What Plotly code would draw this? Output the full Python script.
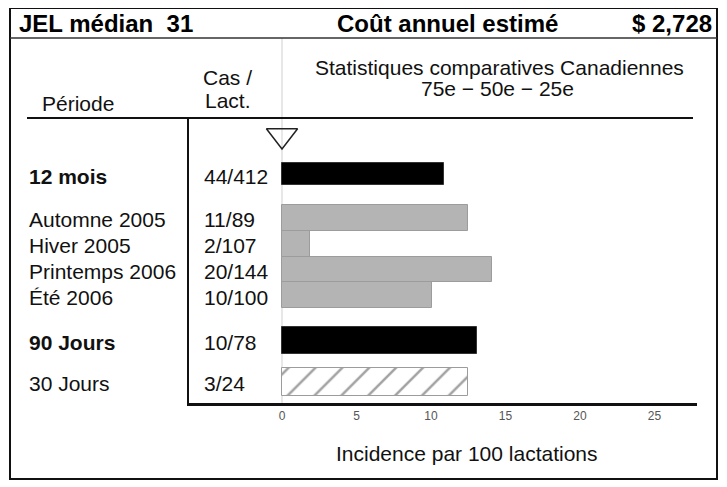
import plotly.graph_objects as go

# --- data ---
periods = ["12 mois", "Automne 2005", "Hiver 2005", "Printemps 2006", "Été 2006", "90 Jours", "30 Jours"]
cases = ["44/412", "11/89", "2/107", "20/144", "10/100", "10/78", "3/24"]
incidence = [10.9, 12.5, 1.9, 14.1, 10.1, 13.1, 12.5]
bold_periods = ["12 mois", "90 Jours"]
percentile_marker = [0]
x_ticks = [0, 5, 10, 15, 20, 25]

header_left = "JEL médian\u00a0\u00a031"
header_mid = "Coût annuel estimé"
header_right = "$ 2,728"

# --- layout (pixel geometry measured on the 727x487 reference) ---
# the page body has an 8px margin, so the figure is drawn 8px smaller and shifted
PAGE_OFF = 8
W_FIG, H_FIG = 727 - PAGE_OFF, 487 - PAGE_OFF
L, R, T, B = 189, 30, 118, 84          # plot area edges in reference pixels
PW, PH = 727 - L - R, 487 - T - B

row_pos = [2.18, 3.89, 4.9, 5.9, 6.9, 8.64, 10.27]
row_width = [0.82, 1.0, 1.0, 1.0, 1.0, 1.05, 1.08]
bar_fill = ["#000000", "#b4b4b4", "#b4b4b4", "#b4b4b4", "#b4b4b4", "#000000", "#ffffff"]
bar_line = ["#333333", "#9c9c9c", "#9c9c9c", "#9c9c9c", "#9c9c9c", "#333333", "#9c9c9c"]
bar_pattern = ["", "", "", "", "", "", "/"]

FONT = "Liberation Sans, Arial, sans-serif"


def px_x(x):
    return (x - L) / PW


def px_y(y):
    return (T + PH - y) / PH


fig = go.Figure()

fig.add_trace(go.Bar(
    x=incidence,
    y=row_pos,
    width=row_width,
    orientation="h",
    marker=dict(
        color=bar_fill,
        line=dict(color=bar_line, width=1),
        pattern=dict(shape=bar_pattern, fgcolor="#000000", bgcolor="#ffffff",
                     size=19, solidity=0.13),
    ),
    hoverinfo="x",
    showlegend=False,
))

fig.add_trace(go.Scatter(
    x=percentile_marker,
    y=[0.68],
    mode="markers",
    marker=dict(symbol="triangle-down-open", size=27, color="#222222",
                line=dict(width=1.5, color="#222222")),
    hoverinfo="skip",
    showlegend=False,
))

annotations = []

# row labels and case counts
for p, c, y in zip(periods, cases, row_pos):
    text = f"<b>{p}</b>" if p in bold_periods else p
    annotations.append(dict(text=text, x=px_x(27), xref="paper", y=y, yref="y",
                            xanchor="left", yanchor="middle", yshift=-2,
                            showarrow=False, font=dict(size=21, color="#111")))
    annotations.append(dict(text=c, x=px_x(202), xref="paper", y=y, yref="y",
                            xanchor="left", yanchor="middle", yshift=-2,
                            showarrow=False, font=dict(size=21, color="#111")))

# header row
for text, x, anchor in [(header_left, 17, "left"), (header_mid, 335, "left"),
                        (header_right, 714, "right")]:
    annotations.append(dict(text=f"<b>{text}</b>", x=px_x(x), y=px_y(23),
                            xref="paper", yref="paper", xanchor=anchor, yanchor="middle",
                            showarrow=False, font=dict(size=24, color="#000")))

# column headings and axis title
for text, x, y in [
    ("Période", 78, 103),
    ("Cas /", 227, 77),
    ("Lact.", 228, 100),
    ("Statistiques comparatives Canadiennes", 499, 67),
    ("75e \u2212 50e \u2212 25e", 497, 89),
    ("Incidence par 100 lactations", 467, 453),
]:
    annotations.append(dict(text=text, x=px_x(x), y=px_y(y), xref="paper", yref="paper",
                            xanchor="center", yanchor="middle", showarrow=False,
                            font=dict(size=21, color="#111")))

shapes = [
    # outer frame
    dict(type="rect", xref="paper", yref="paper", x0=px_x(10), x1=px_x(717),
         y0=px_y(479), y1=px_y(8), line=dict(color="#111", width=2)),
    # header separator
    dict(type="line", xref="paper", yref="paper", x0=px_x(10), x1=px_x(717),
         y0=px_y(38), y1=px_y(38), line=dict(color="#333", width=1.5)),
    # heading rule
    dict(type="line", xref="paper", yref="paper", x0=px_x(27), x1=px_x(693),
         y0=px_y(118), y1=px_y(118), line=dict(color="#111", width=2)),
    # zero reference line
    dict(type="line", xref="x", yref="paper", x0=0, x1=0,
         y0=0, y1=px_y(38), line=dict(color="#d0d0d0", width=1), layer="below"),
]

fig.update_layout(
    width=W_FIG, height=H_FIG,
    margin=dict(l=L - PAGE_OFF, r=R, t=T - PAGE_OFF, b=B),
    paper_bgcolor="white", plot_bgcolor="white",
    font=dict(family=FONT),
    bargap=0,
    annotations=annotations,
    shapes=shapes,
    xaxis=dict(range=[-6.24, 27.85], tickvals=x_ticks, showgrid=False, zeroline=False,
               showline=True, linecolor="#111", linewidth=2.5, ticks="",
               tickfont=dict(size=12, color="#555"), ticklabelstandoff=0, fixedrange=True),
    yaxis=dict(range=[PH / 25.7, 0], showgrid=False, zeroline=False, showticklabels=False,
               showline=True, linecolor="#111", linewidth=2, ticks="", fixedrange=True),
)

fig.write_html("out.html")
